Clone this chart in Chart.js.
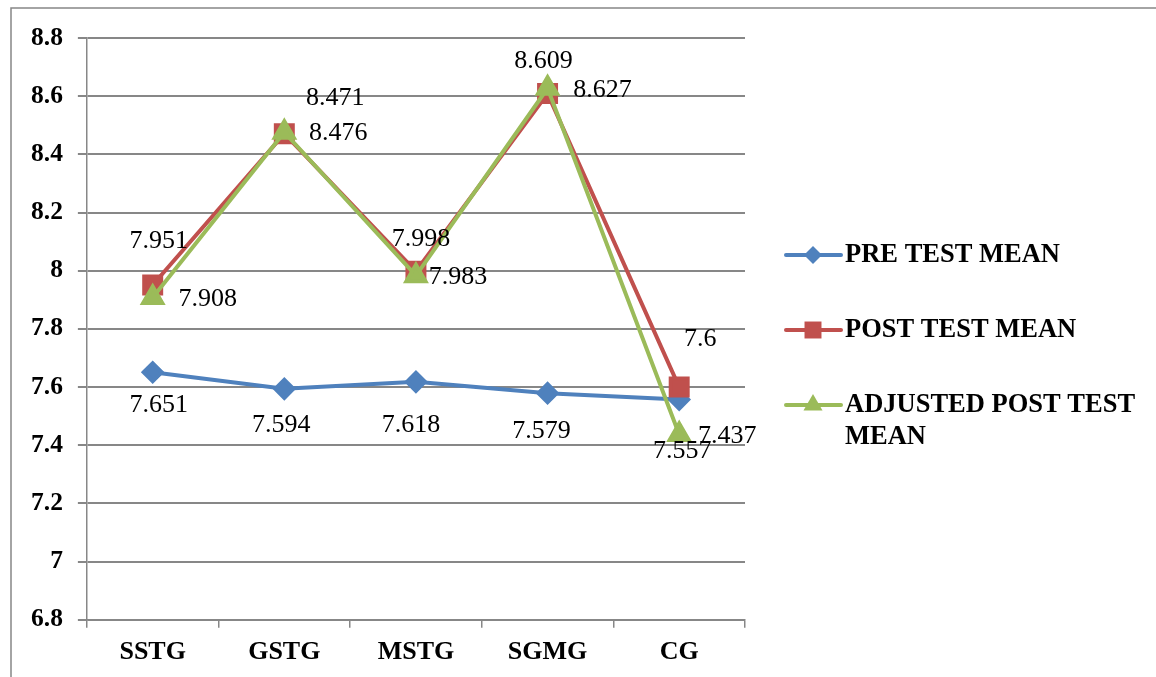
<!DOCTYPE html>
<html>
<head>
<meta charset="utf-8">
<script src="https://cdn.jsdelivr.net/npm/chart.js@4/dist/chart.umd.min.js"></script>
<style>
  html, body { margin: 0; padding: 0; background: #fff; }
  #wrap { width: 1156px; height: 677px; position: relative; }
</style>
</head>
<body>
<div id="wrap"><canvas id="myChart" width="1156" height="677"></canvas></div>
<script>
// Данные графика
const categories = ['SSTG', 'GSTG', 'MSTG', 'SGMG', 'CG'];
const seriesNames = ['PRE TEST MEAN', 'POST TEST MEAN', 'ADJUSTED POST TEST MEAN'];
const preTest = [7.651, 7.594, 7.618, 7.579, 7.557];
const postTest = [7.951, 8.471, 7.998, 8.609, 7.6];
const adjustedPost = [7.908, 8.476, 7.983, 8.627, 7.437];
const yTicks = [6.8, 7, 7.2, 7.4, 7.6, 7.8, 8, 8.2, 8.4, 8.6, 8.8];

const serif = "'Liberation Serif', 'Times New Roman', serif";
const gridColor = '#878787';

// Смещения подписей значений относительно точек (в пикселях)
const labelOffsets = [
  [[6, 33], [-3, 36], [-5, 43], [-6, 38], [3, 52]],
  [[6, -44], [51, -36], [5, -32], [-4, -32], [21, -48]],
  [[55, 2], [54, 1], [42, 2], [55, 2], [48, 2]]
];

// Рамка вокруг диаграммы
const framePlugin = {
  id: 'frame',
  beforeDraw(chart) {
    const ctx = chart.ctx;
    ctx.save();
    ctx.fillStyle = '#fff';
    ctx.fillRect(0, 0, chart.width, chart.height);
    ctx.strokeStyle = '#868686';
    ctx.lineWidth = 1.5;
    ctx.strokeRect(11, 8, 1300, 800);
    ctx.restore();
  }
};

// Подписи значений
const valueLabels = {
  id: 'valueLabels',
  afterDatasetsDraw(chart) {
    const ctx = chart.ctx;
    ctx.save();
    ctx.font = '26px ' + serif;
    ctx.fillStyle = '#000';
    ctx.textAlign = 'center';
    ctx.textBaseline = 'middle';
    chart.data.datasets.forEach((ds, di) => {
      const meta = chart.getDatasetMeta(di);
      meta.data.forEach((pt, i) => {
        const off = labelOffsets[di][i];
        ctx.fillText(String(ds.data[i]), pt.x + off[0], pt.y + off[1]);
      });
    });
    ctx.restore();
  }
};

// Легенда справа (с переносом строки)
const sideLegend = {
  id: 'sideLegend',
  afterDraw(chart) {
    const ctx = chart.ctx;
    const rows = [
      { lines: ['PRE TEST MEAN'], y: 255 },
      { lines: ['POST TEST MEAN'], y: 330 },
      { lines: ['ADJUSTED POST TEST', 'MEAN'], y: 405 }
    ];
    ctx.save();
    chart.data.datasets.forEach((ds, i) => {
      const r = rows[i];
      ctx.strokeStyle = ds.borderColor;
      ctx.lineWidth = 4;
      ctx.lineCap = 'round';
      ctx.beginPath();
      ctx.moveTo(786, r.y);
      ctx.lineTo(841, r.y);
      ctx.stroke();
      ctx.fillStyle = ds.backgroundColor;
      Chart.helpers.drawPoint(ctx, {
        pointStyle: ds.pointStyle,
        radius: ds.pointRadius,
        borderWidth: 0
      }, 813, r.y);
      ctx.fillStyle = '#000';
      ctx.font = 'bold 26.5px ' + serif;
      ctx.textAlign = 'left';
      ctx.textBaseline = 'middle';
      r.lines.forEach((t, k) => ctx.fillText(t, 845, r.y + k * 32));
    });
    ctx.restore();
  }
};

const ctx = document.getElementById('myChart').getContext('2d');
const chart = new Chart(ctx, {
  type: 'line',
  data: {
    labels: categories,
    datasets: [{
      label: seriesNames[0],
      data: preTest,
      borderColor: '#4F81BD',
      backgroundColor: '#4F81BD',
      pointStyle: 'rectRot',
      pointRadius: 9,
      borderWidth: 4,
      order: 2
    }, {
      label: seriesNames[1],
      data: postTest,
      borderColor: '#C0504D',
      backgroundColor: '#C0504D',
      pointStyle: 'rect',
      pointRadius: 12,
      borderWidth: 4,
      order: 1
    }, {
      label: seriesNames[2],
      data: adjustedPost,
      borderColor: '#9BBB59',
      backgroundColor: '#9BBB59',
      pointStyle: 'triangle',
      pointRadius: 11,
      borderWidth: 4,
      order: 0
    }]
  },
  options: {
    responsive: false,
    animation: false,
    elements: { point: { borderWidth: 0 }, line: { tension: 0 } },
    layout: { padding: { left: 16, top: 38, right: 411, bottom: 0 } },
    plugins: {
      legend: { display: false },
      tooltip: { enabled: false }
    },
    scales: {
      x: {
        offset: true,
        grid: {
          offset: true,
          drawOnChartArea: false,
          tickLength: 8,
          color: gridColor,
          lineWidth: 1.5
        },
        border: { color: gridColor, width: 1.5 },
        ticks: {
          color: '#000',
          padding: 9,
          font: { family: serif, size: 26, weight: 'bold' }
        }
      },
      y: {
        min: yTicks[0],
        max: yTicks[yTicks.length - 1],
        afterBuildTicks(scale) {
          scale.ticks = yTicks.map(v => ({ value: v }));
        },
        grid: {
          tickLength: 9,
          color: gridColor,
          lineWidth: 2
        },
        border: { color: gridColor, width: 1.5 },
        ticks: {
          color: '#000',
          padding: 15,
          font: { family: serif, size: 25.5, weight: 'bold' },
          callback: v => String(Number(v.toFixed(1)))
        }
      }
    }
  },
  plugins: [framePlugin, valueLabels, sideLegend]
});
</script>
</body>
</html>
